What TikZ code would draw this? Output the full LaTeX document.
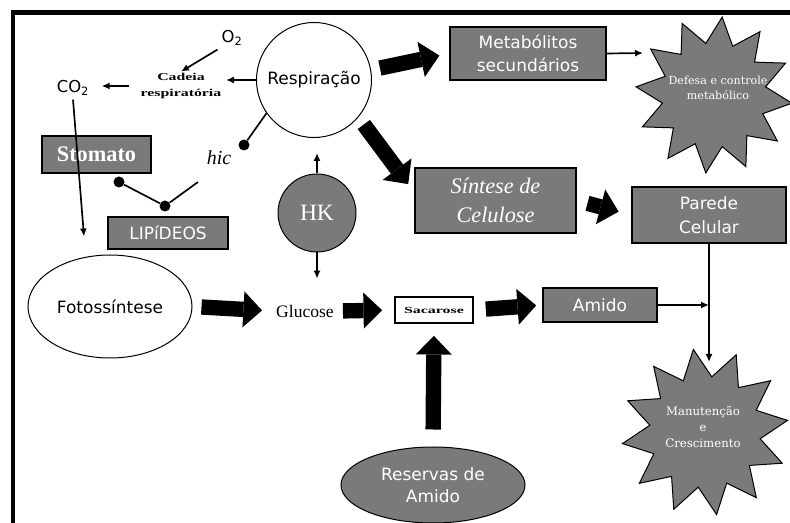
\documentclass[tikz,border=0pt]{standalone}
\usepackage{fontspec}
\usepackage{graphicx}
\setmainfont{Liberation Serif}
\newfontfamily\boxfont{DejaVu Sans}
\newfontfamily\starfont{DejaVu Serif}
\usetikzlibrary{shapes.geometric, arrows.meta}

\definecolor{boxgray}{RGB}{122,122,122}

\begin{document}
\begin{tikzpicture}[x=0.3mm, y=-0.3mm,
    >={Latex[length=2.4mm,width=2.1mm]},
    thinline/.style={line width=0.5mm},
    graybox/.style={draw=black, line width=0.5mm, fill=boxgray, text=white, align=center, inner sep=0pt, font=\boxfont\fontsize{14.5}{20}\selectfont},
    whiteblob/.style={ellipse, draw=black, line width=0.3mm, fill=white, font=\boxfont\fontsize{14.5}{18}\selectfont},
    grayblob/.style={ellipse, draw=black, line width=0.3mm, fill=boxgray, text=white, align=center, font=\boxfont\fontsize{14.5}{19}\selectfont},
    burst/.style={star, star points=12, star point ratio=1.5, draw=black, line width=0.3mm, fill=boxgray, inner sep=0pt},
    bursttext/.style={text=white, align=center, font=\starfont\fontsize{9.5}{12.5}\selectfont},
    fatarrow/.style={line width=4.6mm, -{Triangle[length=5.6mm,width=10.8mm,line width=0pt]}, shorten <=2.7mm, shorten >=3mm},
    dot/.style={circle, fill=black, inner sep=0pt, minimum size=3.3mm},
    tinybold/.style={align=center, inner sep=1pt, font=\bfseries\fontsize{9}{14}\selectfont}
]

\useasboundingbox (0,0) rectangle (790,523);

% Frame (left and top only)
\draw[line width=1.3mm] (13,523) -- (13,12.5) -- (790,12.5);

% Circles and ellipses
\node[whiteblob, circle, minimum size=34.5mm] (resp) at (314,80) {Respiração};
\node[whiteblob, minimum width=49.2mm, minimum height=30.9mm] (foto) at (110,306.5) {Fotossíntese};
\node[grayblob, minimum width=55.2mm, minimum height=22.8mm] (res) at (433,485) {Reservas de\\Amido};
\node[grayblob, circle, minimum size=23.4mm, font=\fontsize{20}{22}\selectfont] (hk) at (317,213) {HK};

% Gray boxes
\node[graybox, minimum width=46.8mm, minimum height=15.9mm] (meta) at (528,53.5) {Metabólitos\\secundários};
\node[graybox, minimum width=48.3mm, minimum height=19.5mm, font=\itshape\fontsize{19}{25}\selectfont] (sint) at (495.5,200.5) {Síntese de\\Celulose};
\node[graybox, minimum width=46.2mm, minimum height=16.8mm] (parede) at (709,215) {Parede\\Celular};
\node[graybox, minimum width=34.2mm, minimum height=10.2mm] (amido) at (600,305) {Amido};
\node[graybox, minimum width=36mm, minimum height=9.6mm] (lip) at (168,233) {LIPíDEOS};
\node[graybox, minimum width=32.7mm, minimum height=11.1mm, font=\bfseries\fontsize{19}{20}\selectfont] (stom) at (96.5,154.5) {Stomato};
\node[draw=black, line width=0.5mm, fill=white, minimum width=23.4mm, minimum height=7.8mm, inner sep=0pt, font=\bfseries\fontsize{8}{9}\selectfont] (sac) at (434,310) {\scalebox{1.7}[1]{Sacarose}};

% Stars
\node[burst, minimum size=47mm, shape border rotate=-6] (defesa) at (714,95) {};
\node[bursttext] (defesatxt) at (718,88) {Defesa e controle\\metabólico};
\node[burst, minimum size=50mm, shape border rotate=8] (manut) at (705,432) {};
\node[bursttext, font=\starfont\fontsize{10}{14}\selectfont] (manuttxt) at (703,427) {Manutenção\\e\\Crescimento};

% Plain labels
\node[font=\boxfont\fontsize{14}{16}\selectfont] (co2) at (73,88) {CO\textsubscript{2}};
\node[font=\boxfont\fontsize{14}{16}\selectfont] (o2) at (232,38) {O\textsubscript{2}};
\node[tinybold] (cadeia) at (181,86) {\scalebox{1.5}[1]{Cadeia}\\\scalebox{1.5}[1]{respiratória}};
\node[font=\fontsize{15}{17}\selectfont] (glucose) at (305,311) {Glucose};
\node[font=\itshape\fontsize{17}{18}\selectfont] (hic) at (219,158) {hic};

% Dots
\foreach \n/\x/\y in {a/119/182, b/165/206, c/244/145} {
    \node[dot] (dot\n) at (\x,\y) {};
}
\coordinate (hicend) at (198,182);
\coordinate (defin) at (643,53);
\coordinate (manin) at (709,362);

% Big arrows
\draw[fatarrow] (resp.10) -- (meta.west);
\draw[fatarrow] (resp.-40) -- ([shift={(0,25)}]sint.north west);
\draw[fatarrow] (foto.east) -- (glucose.west);
\draw[fatarrow, shorten <=1.5mm, shorten >=3.6mm] (glucose.east) -- (sac.west);
\draw[fatarrow, shorten <=3.6mm, shorten >=1.8mm] (sac.east) -- (amido.west);
\draw[fatarrow, shorten <=3.3mm, shorten >=3.9mm] (sint.east) -- (parede.west);
\draw[fatarrow, shorten <=5.1mm, shorten >=3.6mm] (res.north) -- (sac.south);

% Thin arrows
\draw[thinline, ->, shorten >=1mm] (resp.west) -- (resp.west -| cadeia.east);
\draw[thinline, ->] (o2.south west) -- (cadeia.north);
\draw[thinline, ->, shorten <=3mm, shorten >=2.5mm] (cadeia.west) -- (cadeia.west -| co2.east);
\draw[thinline, ->] (co2.south) -- ([shift={(-26,-18)}]foto.north);
\draw[thinline, ->, shorten >=4.5mm] (hk.north) -- (hk.north |- resp.south);
\draw[thinline, ->, shorten >=6.6mm] (hk.south) -- (hk.south |- glucose.north);
\draw[thinline, ->] (meta.east) -- (defin);
\draw[thinline, ->] (amido.east) -- (amido.east -| parede.south);
\draw[thinline, ->] (parede.south) -- (manin);

% Lines with dots
\draw[thinline] (dota) -- (dotb);
\draw[thinline] (dotb) -- (hicend);
\draw[thinline] (resp.215) -- (dotc);

\end{tikzpicture}
\end{document}
